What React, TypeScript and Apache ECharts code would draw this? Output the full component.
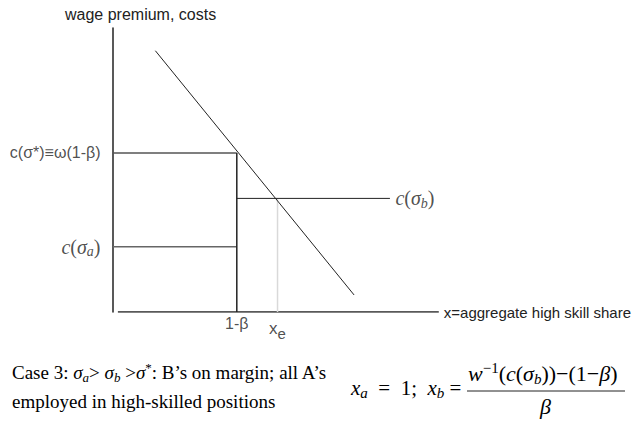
import React, { useEffect, useRef } from 'react';
import * as echarts from 'echarts';

// ---- data (chart coordinates, 0..100 on both axes) ----
const yAxisTitle = 'wage premium, costs';
const xAxisTitle = 'x=aggregate high skill share';
const demandCurve: number[][] = [[13, 92], [74, 6]];
const xAxisLineStart = 1.5;
const oneMinusBeta = 38;
const xEquilibrium = 50.5;
const cStarLevel = 56;
const cBLevel = 40;
const cBLineEnd = 85;
const cALevel = 23;
const xTickLabels = ['1-β', 'x_e'];

const SANS = 'Liberation Sans, Arial, Helvetica, sans-serif';
const SERIF = 'Liberation Serif, Times New Roman, serif';

const mathRich = (size: number) => ({
  r: { fontFamily: SERIF, fontSize: size, color: '#222' },
  i: { fontFamily: SERIF, fontSize: size, fontStyle: 'italic', color: '#222' },
  sub: { fontFamily: SERIF, fontSize: Math.round(size * 0.7), fontStyle: 'italic', color: '#222', padding: [Math.round(size * 0.5), 0, 0, 0] },
  sup: { fontFamily: SERIF, fontSize: Math.round(size * 0.7), color: '#222', padding: [0, 0, Math.round(size * 0.55), 0] },
});

const line = (data: number[][], color: string, width: number, extra: any = {}) => ({
  type: 'line',
  data,
  symbol: 'none',
  silent: true,
  lineStyle: { color, width },
  ...extra,
});

const labelPoint = (value: number[], label: any) => ({
  type: 'scatter',
  data: [value],
  symbolSize: 1,
  itemStyle: { color: 'rgba(0,0,0,0)' },
  silent: true,
  label: { show: true, ...label },
});

export default function App() {
  const ref = useRef<HTMLDivElement>(null);
  useEffect(() => {
    if (!ref.current) return;
    const chart = echarts.init(ref.current, null, { renderer: 'svg' });
    const option: any = {
      animation: false,
      backgroundColor: '#fff',
      grid: { left: 113, right: 192, top: 28, bottom: 111 },
      xAxis: {
        type: 'value', min: 0, max: 100,
        axisLine: { show: false }, axisTick: { show: false }, axisLabel: { show: false }, splitLine: { show: false },
        name: xAxisTitle, nameLocation: 'end', nameGap: 5,
        nameTextStyle: { fontFamily: SANS, fontSize: 15, color: '#222', align: 'left', verticalAlign: 'middle' },
      },
      yAxis: {
        type: 'value', min: 0, max: 100,
        axisLine: { show: true, lineStyle: { color: '#222', width: 1.5 } },
        axisTick: { show: false }, axisLabel: { show: false }, splitLine: { show: false },
      },
      series: [
        line([[xAxisLineStart, 0], [100, 0]], '#222', 1.5),
        line([[xEquilibrium, 0], [xEquilibrium, cBLevel]], '#d9d9d9', 1.5),
        line([[0, cStarLevel], [oneMinusBeta, cStarLevel]], '#555', 1.5),
        line([[0, cALevel], [oneMinusBeta, cALevel]], '#666', 1.5),
        line([[oneMinusBeta, 0], [oneMinusBeta, cStarLevel]], '#222', 1.5),
        line([[oneMinusBeta, cBLevel], [cBLineEnd, cBLevel]], '#222', 1),
        line(demandCurve, '#222', 1),
        labelPoint([0, cStarLevel], {
          position: 'left', distance: 12,
          formatter: 'c(σ*)≡ω(1-β)',
          fontFamily: SANS, fontSize: 16, color: '#222',
        }),
        labelPoint([0, cALevel], {
          position: 'left', distance: 12,
          formatter: '{i|c}{r|(}{i|σ}{sub|a}{r|)}',
          rich: mathRich(20),
        }),
        labelPoint([cBLineEnd, cBLevel], {
          position: 'right', distance: 5,
          formatter: '{i|c}{r|(}{i|σ}{sub|b}{r|)}',
          rich: mathRich(20),
        }),
        labelPoint([oneMinusBeta, 0], {
          position: 'bottom', distance: 3,
          formatter: xTickLabels[0],
          fontFamily: SANS, fontSize: 16, color: '#222',
        }),
        labelPoint([xEquilibrium, 0], {
          position: 'bottom', distance: 4,
          formatter: '{x|x}{e|e}',
          rich: {
            x: { fontFamily: SANS, fontSize: 17, color: '#222' },
            e: { fontFamily: SANS, fontSize: 15, color: '#222', padding: [9, 0, 0, 0] },
          },
        }),
      ],
      graphic: [
        {
          type: 'text', left: 65, top: 6,
          style: { text: yAxisTitle, fontFamily: SANS, fontSize: 16, fill: '#222' },
        },
        {
          type: 'text', left: 12, top: 358,
          style: {
            text: '{r|Case 3: }{i|σ}{sub|a}{r|> }{i|σ}{sub|b}{r| >}{i|σ}{sup|*}{r|: B’s on margin; all A’s}\n{r|employed in high-skilled positions}',
            rich: mathRich(19), lineHeight: 29,
          },
        },
        {
          type: 'text', left: 351, top: 377,
          style: { text: '{i|x}{sub|a}{r|  =  1;  }{i|x}{sub|b}{r| =}', rich: mathRich(21) },
        },
        {
          type: 'text', left: 468, top: 360,
          style: { text: '{i|w}{sup|−1}{r|(}{i|c}{r|(}{i|σ}{sub|b}{r|))−(1−}{i|β}{r|)}', rich: mathRich(22) },
        },
        { type: 'line', shape: { x1: 467, y1: 391, x2: 625, y2: 391 }, style: { stroke: '#222', lineWidth: 1 } },
        {
          type: 'text', left: 540, top: 395,
          style: { text: '{i|β}', rich: mathRich(22) },
        },
      ],
    };
    chart.setOption(option);
    return () => chart.dispose();
  }, []);
  return <div ref={ref} style={{ position: 'fixed', left: 0, top: 0, width: 634, height: 423 }} />;
}
